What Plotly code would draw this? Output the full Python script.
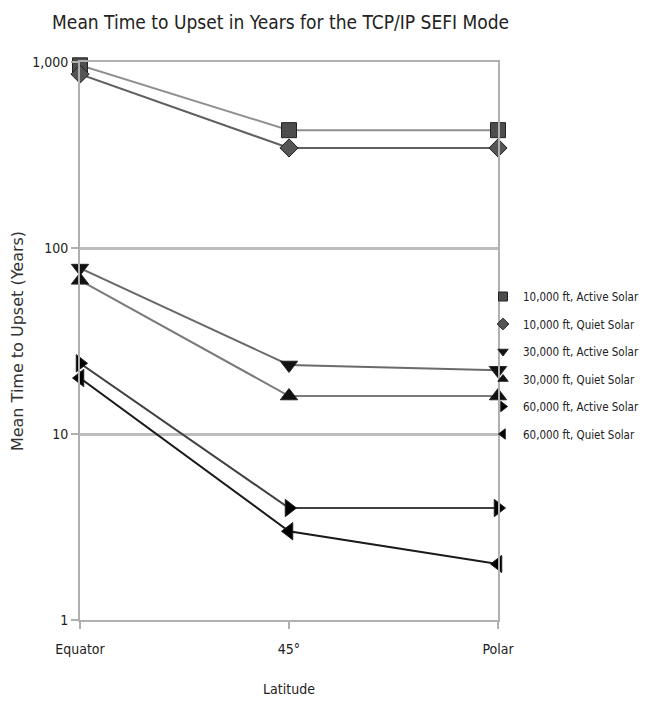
import plotly.graph_objects as go

latitudes = ["Equator", "45°", "Polar"]
series_names = [
    "10,000 ft, Active Solar",
    "10,000 ft, Quiet Solar",
    "30,000 ft, Active Solar",
    "30,000 ft, Quiet Solar",
    "60,000 ft, Active Solar",
    "60,000 ft, Quiet Solar",
]
alt10_active = [960, 430, 430]
alt10_quiet = [860, 345, 345]
alt30_active = [78, 23.5, 22]
alt30_quiet = [67, 16, 16]
alt60_active = [24, 4, 4]
alt60_quiet = [20, 3, 2]
y_tickvals = [1, 10, 100, 1000]
y_ticktext = ["1", "10", "100", "1,000"]

values = [alt10_active, alt10_quiet, alt30_active, alt30_quiet, alt60_active, alt60_quiet]
symbols = ["square", "diamond", "triangle-down", "triangle-up", "triangle-right", "triangle-left"]
marker_colors = ["#4d4d4d", "#555555", "#111111", "#111111", "#000000", "#000000"]
line_colors = ["#8f8f8f", "#606060", "#6a6a6a", "#7a7a7a", "#404040", "#1a1a1a"]
sizes = [15, 14, 15, 15, 15, 15]

narrow = "DejaVu Sans Condensed, Liberation Sans Narrow, Liberation Sans, sans-serif"

# page has an 8px body margin; layout below is expressed relative to the figure
OFF = 8
L, R_EDGE, T, B_EDGE = 80 - OFF, 498 - OFF, 62 - OFF, 620 - OFF
W, H = 649, 703
PW, PH = R_EDGE - L, B_EDGE - T

fig = go.Figure()
for i, (name, vals, sym, mc, lc, sz) in enumerate(zip(series_names, values, symbols, marker_colors, line_colors, sizes)):
    fig.add_trace(go.Scatter(
        x=latitudes, y=vals, name=name, mode="lines+markers",
        line=dict(color=lc, width=2),
        marker=dict(symbol=sym, size=sz, color=mc, line=dict(color="#222222", width=1)),
        cliponaxis=False, showlegend=False, legendgroup=f"g{i}",
    ))
    fig.add_trace(go.Scatter(
        x=[None], y=[None], name=name, mode="markers",
        marker=dict(symbol=sym, size=9, color=mc, line=dict(color="#222222", width=1)),
        showlegend=True, legendgroup=f"g{i}",
    ))

fig.update_layout(
    width=W, height=H,
    paper_bgcolor="white", plot_bgcolor="white",
    margin=dict(l=L, r=W - R_EDGE, t=T, b=H - B_EDGE, autoexpand=False),
    title=dict(text="Mean Time to Upset in Years for the TCP/IP SEFI Mode",
               xref="paper", x=0.48, xanchor="center", yref="container", y=1 - (22 - OFF) / H, yanchor="middle",
               font=dict(family=narrow, size=19, color="#222222")),
    showlegend=True,
    legend=dict(xref="paper", x=(483 - OFF - L) / PW, xanchor="left",
                yref="paper", y=(B_EDGE - (284 - OFF - 2)) / PH, yanchor="top",
                font=dict(family=narrow, size=11.5, color="#222222"),
                bgcolor="rgba(0,0,0,0)", tracegroupgap=8.5, itemwidth=30),
    font=dict(family=narrow, color="#222222"),
)

fig.update_xaxes(
    type="category", range=[0, 2],
    showgrid=False, showline=True, mirror=True, linecolor="#b0b0b0", linewidth=2,
    ticks="outside", ticklen=7, tickcolor="#b0b0b0", tickwidth=2,
    ticklabelstandoff=8,
    tickfont=dict(family=narrow, size=14, color="#222222"),
    title=dict(text="Latitude", font=dict(family=narrow, size=14, color="#222222"), standoff=28),
)
fig.update_yaxes(
    type="log", range=[0, 3],
    tickvals=y_tickvals, ticktext=y_ticktext,
    showgrid=True, gridcolor="#bdbdbd", gridwidth=3,
    showline=True, mirror=True, linecolor="#b0b0b0", linewidth=2,
    ticks="outside", ticklen=7, tickcolor="#b0b0b0", tickwidth=2,
    tickfont=dict(family=narrow, size=14, color="#222222"),
    title=dict(text="Mean Time to Upset (Years)", font=dict(family="DejaVu Sans, sans-serif", size=16, color="#333333"), standoff=16),
    zeroline=False,
)

fig.write_html("out.html")
